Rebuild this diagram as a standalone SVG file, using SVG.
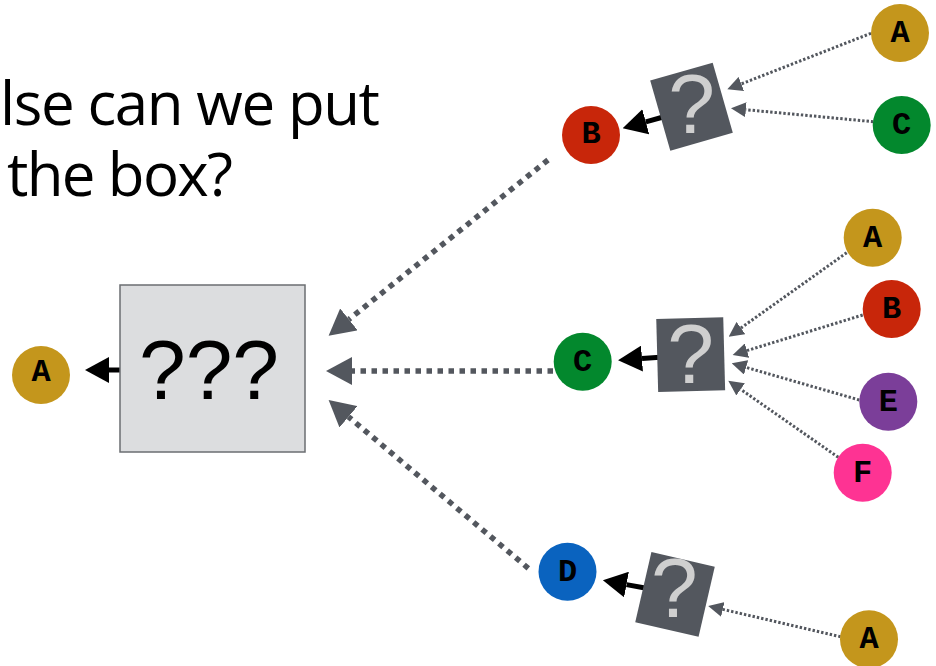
<svg xmlns="http://www.w3.org/2000/svg" width="936" height="666" viewBox="0 0 936 666">
  <defs>
    <style>
      .title { font-family: "Open Sans", "Noto Sans", sans-serif; font-size: 60px; fill: #000; }
      .node-label { font-family: "Courier New", "Liberation Mono", monospace; font-weight: bold; font-size: 32px; fill: #000; text-anchor: middle; }
      .qbox { fill: #53575e; }
      .qmark { font-family: "Liberation Sans", Arial, sans-serif; font-size: 84px; fill: #cfcfcf; text-anchor: middle; }
      .big-dots { fill: none; stroke: #53575e; stroke-width: 5.5; stroke-dasharray: 5.5 5.5; }
      .small-dots { fill: none; stroke: #53575e; stroke-width: 3; stroke-dasharray: 2.4 2; }
      .solid { fill: none; stroke: #000; stroke-width: 5; }
    </style>
    <marker id="bigHead" markerUnits="userSpaceOnUse" markerWidth="26" markerHeight="28" viewBox="0 0 26 28" refX="0" refY="14" orient="auto">
      <path d="M0,0 L26,14 L0,28 Z" fill="#53575e"/>
    </marker>
    <marker id="smallHead" markerUnits="userSpaceOnUse" markerWidth="15" markerHeight="15" viewBox="0 0 15 15" refX="0" refY="7.5" orient="auto">
      <path d="M0,0 L15,7.5 L0,15 Z" fill="#53575e"/>
    </marker>
    <marker id="blackHead" markerUnits="userSpaceOnUse" markerWidth="24" markerHeight="26" viewBox="0 0 24 26" refX="0" refY="13" orient="auto">
      <path d="M0,0 L24,13 L0,26 Z" fill="#000"/>
    </marker>
  </defs>

  <rect width="936" height="666" fill="#fff"/>

  <!-- heading -->
  <text class="title" x="0" y="125" textLength="380" lengthAdjust="spacing">lse can we put</text>
  <text class="title" x="7" y="196" textLength="226" lengthAdjust="spacing">the box?</text>

  <g id="connectors">
    <!-- into the main box -->
    <line class="big-dots" x1="548" y1="160" x2="348.9" y2="319.4" marker-end="url(#bigHead)"/>
    <line class="big-dots" x1="553" y1="371" x2="352" y2="371" marker-end="url(#bigHead)"/>
    <line class="big-dots" x1="528.3" y1="568.3" x2="348.5" y2="416.8" marker-end="url(#bigHead)"/>

    <!-- main box output -->
    <line class="solid" x1="122" y1="370" x2="109" y2="370" marker-end="url(#blackHead)"/>

    <!-- upper cluster -->
    <line class="small-dots" x1="871" y1="33.3" x2="741.3" y2="83.9" marker-end="url(#smallHead)"/>
    <line class="small-dots" x1="873.3" y1="121.7" x2="745.9" y2="109.7" marker-end="url(#smallHead)"/>
    <line class="solid" x1="665" y1="116.5" x2="645.8" y2="121.8" marker-end="url(#blackHead)"/>

    <!-- middle cluster -->
    <line class="small-dots" x1="846.7" y1="252.7" x2="740.9" y2="328" marker-end="url(#smallHead)"/>
    <line class="small-dots" x1="862.7" y1="315" x2="747" y2="350.6" marker-end="url(#smallHead)"/>
    <line class="small-dots" x1="859.3" y1="400" x2="746.1" y2="367.4" marker-end="url(#smallHead)"/>
    <line class="small-dots" x1="838.3" y1="457.3" x2="740.6" y2="389.3" marker-end="url(#smallHead)"/>
    <line class="solid" x1="660" y1="357.3" x2="642" y2="358.6" marker-end="url(#blackHead)"/>

    <!-- lower cluster -->
    <line class="small-dots" x1="840.6" y1="636.7" x2="722.8" y2="609.4" marker-end="url(#smallHead)"/>
    <line class="solid" x1="645" y1="588" x2="626.5" y2="584.6" marker-end="url(#blackHead)"/>
  </g>

  <g id="main-box">
    <rect x="120" y="285" width="185" height="167" fill="#dcdddf" stroke="#6b6e72" stroke-width="1.5"/>
    <text x="209" y="399" font-family="Liberation Sans, Arial, sans-serif" font-size="84" text-anchor="middle" fill="#000">???</text>
  </g>

  <g id="node-a-out">
    <circle cx="41" cy="375" r="29" fill="#c4961c"/>
    <text class="node-label" x="41" y="381" font-size="25">A</text>
  </g>

  <g id="unknown-top">
    <rect class="qbox" x="-32.5" y="-36.5" width="65" height="73" transform="translate(691.5 106.7) rotate(-16)"/>
    <text class="qmark" x="691.7" y="132.7">?</text>
  </g>
  <g id="node-b-top">
    <circle cx="591" cy="135" r="29" fill="#c8260a"/>
    <text class="node-label" x="591" y="143">B</text>
  </g>
  <g id="node-a-top">
    <circle cx="900" cy="33" r="29" fill="#c4961c"/>
    <text class="node-label" x="900" y="42">A</text>
  </g>
  <g id="node-c-top">
    <circle cx="901.7" cy="125" r="29" fill="#03882d"/>
    <text class="node-label" x="901.7" y="134">C</text>
  </g>

  <g id="unknown-mid">
    <rect class="qbox" x="-33.5" y="-36.5" width="67" height="73" transform="translate(690.7 354.6) rotate(-1.5)"/>
    <text class="qmark" x="690.7" y="382.7">?</text>
  </g>
  <g id="node-c-mid">
    <circle cx="582.7" cy="361.7" r="29" fill="#03882d"/>
    <text class="node-label" x="582.7" y="370.7">C</text>
  </g>
  <g id="node-a-mid">
    <circle cx="872.7" cy="237.7" r="29" fill="#c4961c"/>
    <text class="node-label" x="872.7" y="246.7">A</text>
  </g>
  <g id="node-b-mid">
    <circle cx="891.7" cy="309" r="29" fill="#c8260a"/>
    <text class="node-label" x="891.7" y="318">B</text>
  </g>
  <g id="node-e-mid">
    <circle cx="888.3" cy="401.7" r="29" fill="#7b3e99"/>
    <text class="node-label" x="888.3" y="410.7">E</text>
  </g>
  <g id="node-f-mid">
    <circle cx="862.7" cy="472.7" r="29" fill="#fe3393"/>
    <text class="node-label" x="862.7" y="481.7">F</text>
  </g>

  <g id="unknown-bottom">
    <rect class="qbox" x="-32.5" y="-36" width="65" height="72" transform="translate(675 594.4) rotate(13)"/>
    <text class="qmark" x="674.4" y="617.3">?</text>
  </g>
  <g id="node-d-bottom">
    <circle cx="567.5" cy="571.7" r="29" fill="#0a63bf"/>
    <text class="node-label" x="567.5" y="580.7">D</text>
  </g>
  <g id="node-a-bottom">
    <circle cx="869" cy="639.3" r="29" fill="#c4961c"/>
    <text class="node-label" x="869" y="648.3">A</text>
  </g>
</svg>
